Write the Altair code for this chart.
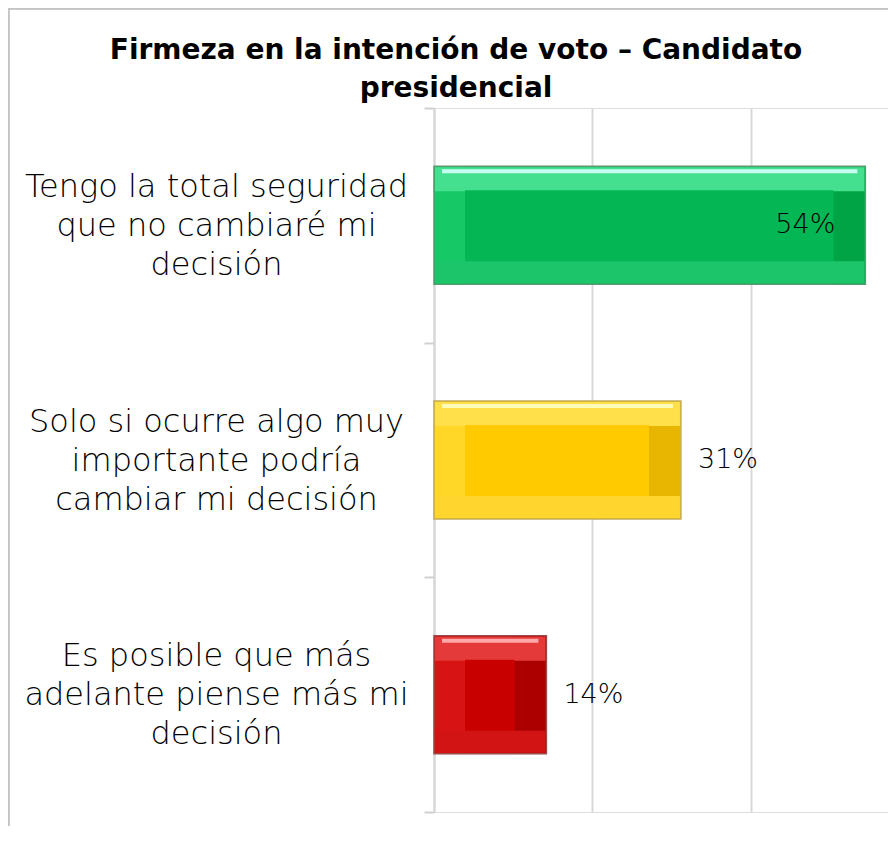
import altair as alt
import pandas as pd

categories = [
    "Tengo la total seguridad|que no cambiaré mi|decisión",
    "Solo si ocurre algo muy|importante podría|cambiar mi decisión",
    "Es posible que más|adelante piense más mi|decisión",
]
values = [0.545, 0.312, 0.142]
value_labels = ["54%", "31%", "14%"]
title_lines = ["Firmeza en la intención de voto – Candidato", "presidencial"]

df = pd.DataFrame({"cat": categories, "v": values, "lab": value_labels})
title_df = pd.DataFrame({"t": [title_lines]})

# styles
FONT = "DejaVu Sans"
W, H = 454, 704
PAD_L, PAD_T = 426, 100
XMAX = W / 791.5
BAR = 118
mid_c = ["#04b754", "#ffcb00", "#c90000"]
top_c = ["#45e08f", "#ffe04a", "#e43a3a"]
hl_c = ["#c6ffef", "#fffbb8", "#ffa8a8"]
bot_c = ["#1cc46a", "#ffd52e", "#d21414"]
left_c = ["#16c866", "#ffd726", "#d81313"]
right_c = ["#00a445", "#e8b500", "#ac0000"]
stroke_c = ["#5a9a72", "#c2ac5c", "#9a4a4a"]

x_scale = alt.Scale(domain=[0, XMAX], nice=False, zero=True)
y_enc = alt.Y(
    "cat:N",
    sort=categories,
    scale=alt.Scale(paddingInner=0, paddingOuter=0),
    axis=alt.Axis(
        title=None,
        labelExpr="split(datum.label, '|')",
        labelFont=FONT,
        labelFontSize=32,
        labelFontWeight=300,
        labelLineHeight=39,
        labelColor="#000000",
        labelAlign="center",
        labelBaseline="middle",
        labelOffset=-39,
        labelPadding=208,
        labelLimit=0,
        tickBand="extent",
        tickSize=10,
        tickColor="#d0d0d0",
        tickWidth=2,
        domainColor="#d6d6d6",
        domainWidth=2,
        grid=False,
    ),
)


def cscale(rng):
    return alt.Scale(domain=categories, range=rng)


base = alt.Chart(df).transform_calculate(z="0")

x_main = alt.X(
    "v:Q",
    scale=x_scale,
    axis=alt.Axis(
        values=[0, 0.2, 0.4],
        labels=False,
        ticks=False,
        domain=False,
        title=None,
        grid=True,
        gridColor="#d9d9d9",
        gridWidth=2,
    ),
)
x_v = alt.X("v:Q", scale=x_scale)
x_z = alt.X("z:Q", scale=x_scale)

outer = base.mark_bar(size=BAR, strokeWidth=1.5).encode(
    x=x_main,
    y=y_enc,
    color=alt.Color("cat:N", scale=cscale(mid_c), legend=None),
    stroke=alt.Stroke("cat:N", scale=cscale(stroke_c), legend=None),
)

left_strip = base.mark_bar(size=BAR - 2, xOffset=1, x2Offset=31).encode(
    x=x_z, x2=alt.X2("z"), y=y_enc,
    color=alt.Color("cat:N", scale=cscale(left_c), legend=None),
)

right_strip = base.mark_bar(size=BAR - 2, xOffset=-1, x2Offset=-32).encode(
    x=x_v, x2=alt.X2("v"), y=y_enc,
    color=alt.Color("cat:N", scale=cscale(right_c), legend=None),
)

top_strip = base.mark_bar(size=24, yOffset=-46, xOffset=1, x2Offset=-1).encode(
    x=x_z, x2=alt.X2("v"), y=y_enc,
    color=alt.Color("cat:N", scale=cscale(top_c), legend=None),
)

highlight = base.mark_bar(size=4, yOffset=-54, xOffset=8, x2Offset=-8).encode(
    x=x_z, x2=alt.X2("v"), y=y_enc,
    color=alt.Color("cat:N", scale=cscale(hl_c), legend=None),
)

bottom_strip = base.mark_bar(size=22, yOffset=47, xOffset=1, x2Offset=-1).encode(
    x=x_z, x2=alt.X2("v"), y=y_enc,
    color=alt.Color("cat:N", scale=cscale(bot_c), legend=None),
)

inner = base.mark_bar(size=BAR - 48, xOffset=31, x2Offset=-32).encode(
    x=x_z, x2=alt.X2("v"), y=y_enc,
    color=alt.Color("cat:N", scale=cscale(mid_c), legend=None),
)

txt_in = base.transform_filter("datum.v >= 0.5").mark_text(
    align="right", baseline="middle", dx=-30, font=FONT, fontSize=27,
    fontWeight=300, color="#000000",
).encode(x=x_v, y=y_enc, text="lab:N")

txt_out = base.transform_filter("datum.v < 0.5").mark_text(
    align="left", baseline="middle", dx=17, font=FONT, fontSize=27,
    fontWeight=300, color="#000000",
).encode(x=x_v, y=y_enc, text="lab:N")

title = alt.Chart(title_df).mark_text(
    font=FONT, fontSize=28, fontWeight="bold", color="#000000",
    align="center", baseline="middle", lineHeight=38,
).encode(text="t", x=alt.value(22), y=alt.value(-57))

frame_left = alt.Chart(df).mark_rule(color="#c4c4c4", strokeWidth=2).encode(
    x=alt.value(-PAD_L + 0.5), y=alt.value(-PAD_T + 0.5), y2=alt.value(H + 40)
)
frame_top = alt.Chart(df).mark_rule(color="#c4c4c4", strokeWidth=2).encode(
    x=alt.value(-PAD_L + 0.5), x2=alt.value(W + 10), y=alt.value(-PAD_T + 0.5)
)

chart = (
    alt.layer(
        outer, left_strip, right_strip, top_strip, bottom_strip, inner,
        highlight, txt_in, txt_out, title, frame_left, frame_top,
    )
    .resolve_scale(color="independent", stroke="independent")
    .properties(
        width=W,
        height=H,
        autosize=alt.AutoSizeParams(type="none"),
        padding={"left": PAD_L, "top": PAD_T, "right": 0, "bottom": 14},
    )
    .configure_view(stroke=None)
    .configure(background="#ffffff")
)

chart.save("out.html", embed_options={"renderer": "svg", "actions": False})
